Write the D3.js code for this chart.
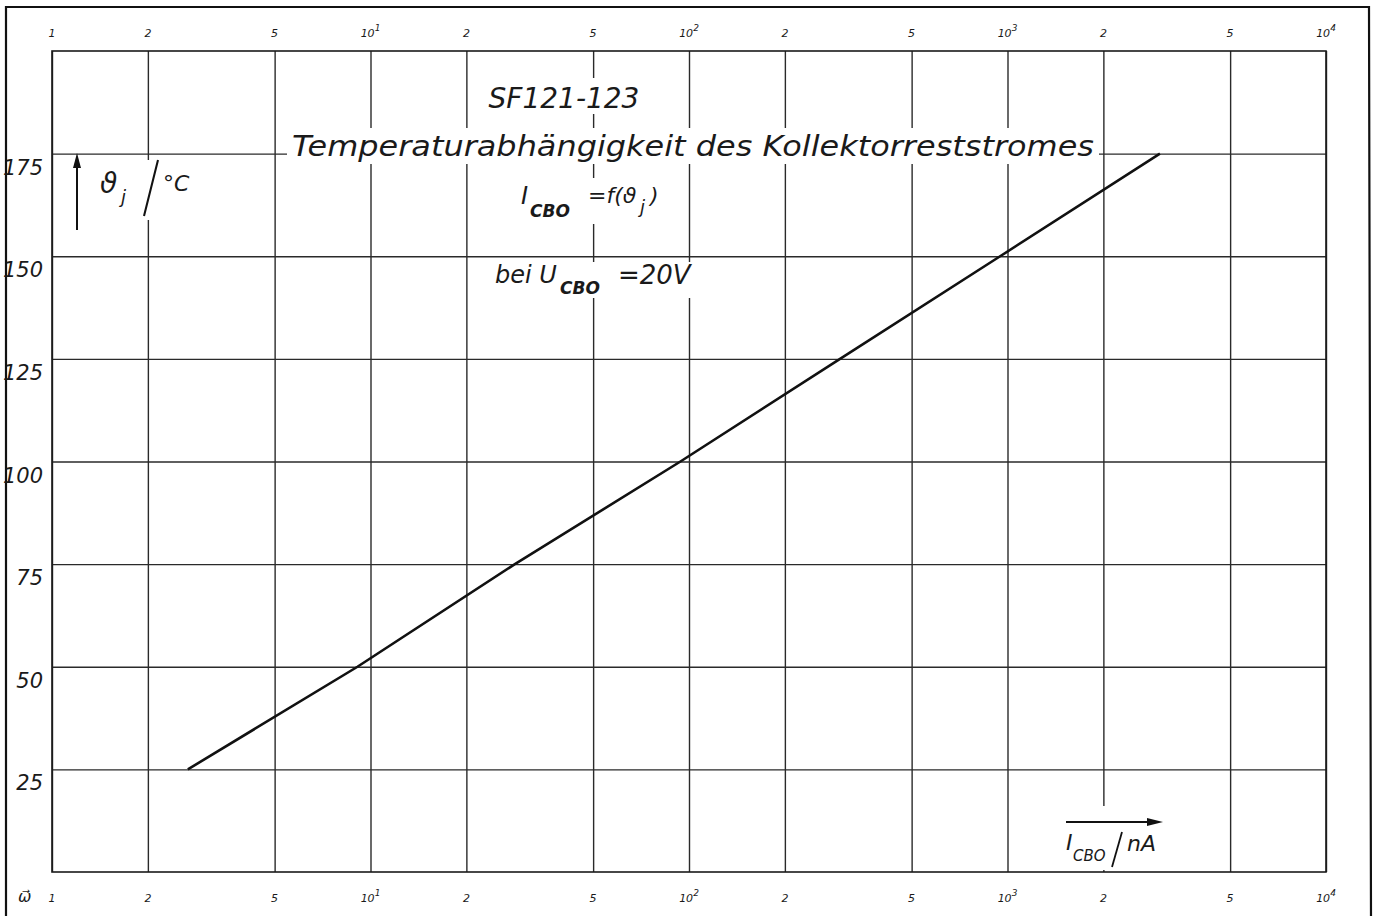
<!DOCTYPE html>
<html lang="de">
<head>
    <meta charset="UTF-8">
    <title>SF121-123 Kollektorreststrom</title>
    <script src="https://d3js.org/d3.v7.min.js"></script>
    <style>
        body { margin: 0; background: white; }
        svg { display: block; }
        text { font-family: "DejaVu Sans", sans-serif; font-style: italic; fill: #1a1a1a; }
        .grid line { stroke: #2a2a2a; stroke-width: 1.4; }
        .grid path { display: none; }
    </style>
</head>
<body>
<svg width="1380" height="916"></svg>
<script>
    // values
    var xTicks = [1, 2, 5, 10, 20, 50, 100, 200, 500, 1000, 2000, 5000, 10000];
    var yTicks = [25, 50, 75, 100, 125, 150, 175];
    var tempC = [25, 50, 75, 100, 125, 150, 175];
    var icboNA = [2.67, 9.1, 28.4, 94, 298, 948, 3010];

    var svg = d3.select("svg");
    var mLeft = 52, mTop = 51, width = 1274, height = 821;

    var x = d3.scaleLog().domain([1, 10000]).range([0, width]);
    var y = d3.scaleLinear().domain([0, 200]).range([height, 0]);

    // outer frame
    svg.append("path")
        .attr("d", "M6,916 L6,7 L1369,7 L1371,916")
        .attr("fill", "none").attr("stroke", "#111").attr("stroke-width", 2.2);

    var g = svg.append("g").attr("transform", "translate(" + mLeft + "," + mTop + ")");

    // grid
    g.append("g").attr("class", "grid")
        .attr("transform", "translate(0," + height + ")")
        .call(d3.axisBottom(x).tickValues(xTicks).tickSize(-height).tickFormat(""));
    g.append("g").attr("class", "grid")
        .call(d3.axisLeft(y).tickValues(yTicks).tickSize(-width).tickFormat(""));

    g.append("rect")
        .attr("x", 0).attr("y", 0).attr("width", width).attr("height", height)
        .attr("fill", "none").attr("stroke", "#1a1a1a").attr("stroke-width", 1.6);

    // curve
    var line = d3.line()
        .x(function(d) { return x(d[0]); })
        .y(function(d) { return y(d[1]); });
    g.append("path")
        .datum(d3.zip(icboNA, tempC))
        .attr("d", line)
        .attr("fill", "none").attr("stroke", "#111").attr("stroke-width", 2.6);

    // white patches behind the captions (they interrupt the grid)
    function blank(x0, y0, w, h) {
        svg.append("rect").attr("x", x0).attr("y", y0).attr("width", w).attr("height", h).attr("fill", "white");
    }
    blank(287, 128, 812, 36);
    blank(486, 78, 158, 36);
    blank(515, 178, 170, 46);
    blank(490, 262, 212, 36);
    blank(92, 160, 110, 60);
    blank(1060, 806, 110, 64);

    function label(xp, yp, size, txt, anchor) {
        return svg.append("text").attr("x", xp).attr("y", yp)
            .attr("font-size", size).attr("text-anchor", anchor || "start").text(txt);
    }

    // x tick labels, top and bottom
    function tickText(sel) {
        sel.each(function(d) {
            var t = d3.select(this);
            var p = Math.round(Math.log10(d));
            if (d >= 10 && Math.pow(10, p) === d) {
                t.append("tspan").text("10");
                t.append("tspan").attr("dy", -6).attr("font-size", 9).text(p);
            } else {
                t.text(String(d / Math.pow(10, Math.floor(Math.log10(d) + 1e-9))));
            }
        });
    }
    [37, 902].forEach(function(ty) {
        svg.append("g")
            .selectAll("text").data(xTicks).enter().append("text")
            .attr("x", function(d) { return mLeft + x(d); })
            .attr("y", ty)
            .attr("text-anchor", "middle")
            .attr("font-size", 11)
            .call(tickText);
    });

    // y tick labels
    svg.append("g").selectAll("text").data(yTicks).enter().append("text")
        .attr("x", 43)
        .attr("y", function(d) { return mTop + y(d) + 21; })
        .attr("text-anchor", "end")
        .attr("font-size", 21)
        .text(function(d) { return d; });

    // titles
    label(564, 108, 28, "SF121-123", "middle");
    label(292, 156, 29, "Temperaturabhängigkeit des Kollektorreststromes")
        .attr("textLength", 802).attr("lengthAdjust", "spacingAndGlyphs");

    label(521, 204, 24, "I");
    label(530, 217, 17, "CBO").attr("font-weight", "bold");
    label(588, 203, 22, "=f(ϑ");
    label(640, 213, 18, "j");
    label(650, 203, 22, ")");

    label(495, 283, 24, "bei U");
    label(560, 294, 17, "CBO").attr("font-weight", "bold");
    label(618, 284, 26, "=20V");

    // y axis caption with arrow
    svg.append("line").attr("x1", 77).attr("y1", 230).attr("x2", 77).attr("y2", 166)
        .attr("stroke", "#111").attr("stroke-width", 2);
    svg.append("path").attr("d", "M73,168 L77,153 L81,168 Z").attr("fill", "#111");
    label(100, 193, 28, "ϑ");
    label(121, 203, 18, "j");
    svg.append("line").attr("x1", 158).attr("y1", 160).attr("x2", 144).attr("y2", 216)
        .attr("stroke", "#111").attr("stroke-width", 2);
    label(163, 191, 22, "°C");

    // x axis caption with arrow
    svg.append("line").attr("x1", 1066).attr("y1", 822).attr("x2", 1150).attr("y2", 822)
        .attr("stroke", "#111").attr("stroke-width", 2);
    svg.append("path").attr("d", "M1147,818 L1163,822 L1147,826 Z").attr("fill", "#111");
    label(1066, 850, 22, "I");
    label(1073, 861, 15, "CBO");
    svg.append("line").attr("x1", 1122).attr("y1", 832).attr("x2", 1112).attr("y2", 867)
        .attr("stroke", "#111").attr("stroke-width", 1.8);
    label(1127, 851, 22, "nA");

    label(18, 902, 16, "ω⃗");
</script>
</body>
</html>
